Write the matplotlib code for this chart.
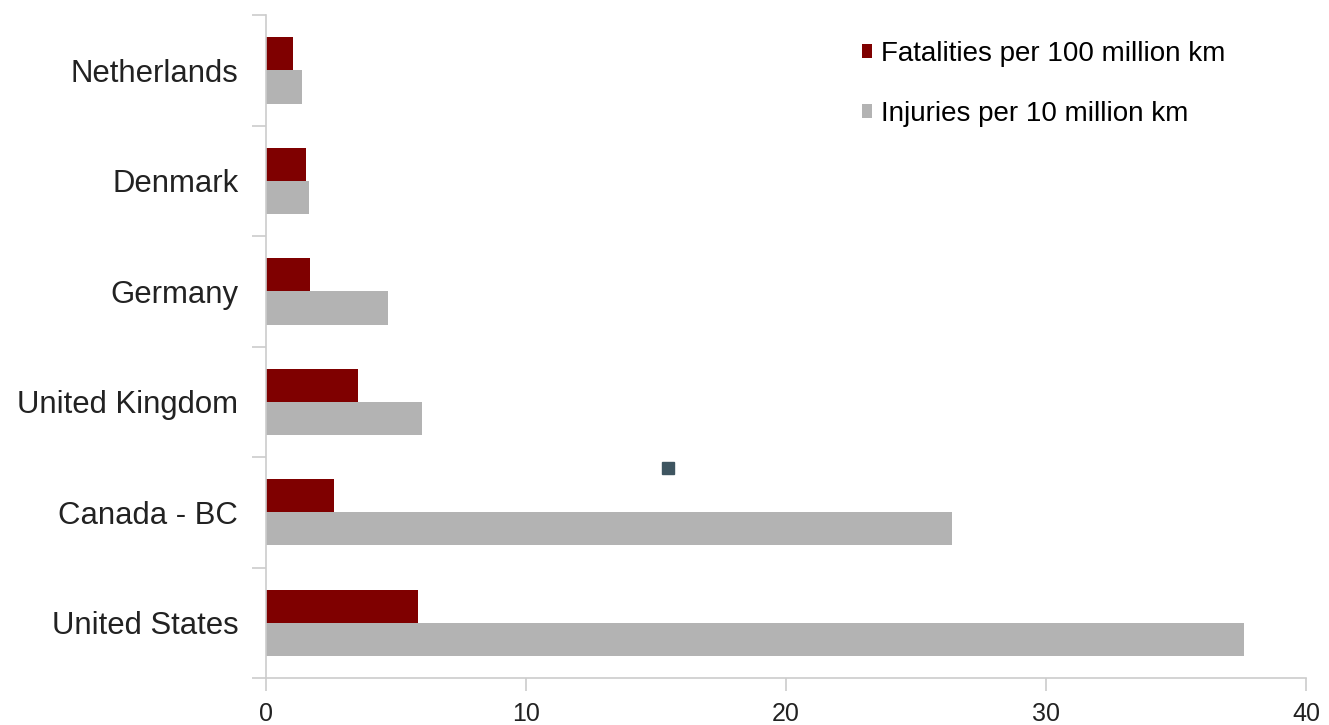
import matplotlib
matplotlib.use("Agg")
import matplotlib.pyplot as plt
import numpy as np

countries = ["Netherlands", "Denmark", "Germany", "United Kingdom", "Canada - BC", "United States"]
fatalities = [1.05, 1.55, 1.7, 3.55, 2.6, 5.85]
injuries = [1.4, 1.65, 4.7, 6.0, 26.4, 37.6]
x_ticks = [0, 10, 20, 30, 40]

# stray marker sitting above the Canada bars
stray_x = [15.45]
stray_y = [3.6]

plt.rcParams['font.family'] = ['Liberation Sans', 'DejaVu Sans']

fig = plt.figure(figsize=(13.29, 7.25), dpi=100)
ax = fig.add_axes([0.2002, 0.0648, 0.7825, 0.9142])

y = np.arange(len(countries))
h = 0.3
ax.barh(y - h / 2, fatalities, height=h, color='#7f0000', label='Fatalities per 100 million km')
ax.barh(y + h / 2, injuries, height=h, color='#b3b3b3', label='Injuries per 10 million km')
ax.plot(stray_x, stray_y, marker='s', markersize=8, color='#3e5560', linestyle='none')

ax.set_xlim(0, 40)
ax.set_ylim(len(countries) - 0.5, -0.5)
ax.set_xticks(x_ticks)
ax.set_yticks(y)
ax.set_yticklabels(countries)
ax.set_yticks(np.arange(-0.5, len(countries), 1), minor=True)
ax.tick_params(axis='y', which='major', length=0, labelsize=22.4, pad=20, colors='#222222')
ax.tick_params(axis='y', which='minor', length=10, color='#cccccc', width=1.2)
ax.tick_params(axis='x', length=9, width=1.2, labelsize=18, pad=8, colors='#222222')
ax.tick_params(axis='x', color='#cccccc')

for side in ['top', 'right']:
    ax.spines[side].set_visible(False)
for side in ['left', 'bottom']:
    ax.spines[side].set_color('#cccccc')
    ax.spines[side].set_linewidth(1.2)

ax.legend(loc='upper right', bbox_to_anchor=(0.945, 0.997), frameon=False, fontsize=20,
          handlelength=0.38, handleheight=0.38, handletextpad=0.3, labelspacing=1.23,
          borderaxespad=0.45)

fig.savefig('out.png', dpi=100)
